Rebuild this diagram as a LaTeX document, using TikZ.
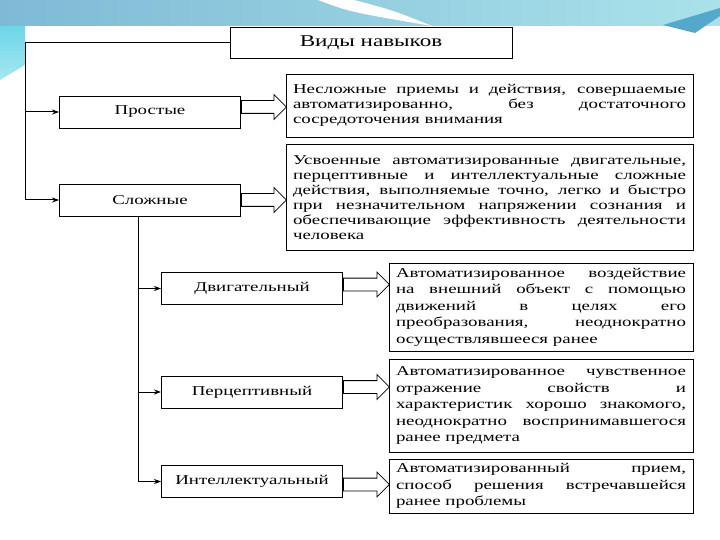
\documentclass[tikz,border=0pt]{standalone}
\usepackage{fontspec}
\setmainfont{Liberation Serif}[FakeStretch=1.4]
\usetikzlibrary{shapes.arrows,arrows.meta}
\hyphenpenalty=10000
\tolerance=10000
\definecolor{bandblue}{RGB}{126,186,214}
\definecolor{bandcyan}{RGB}{170,226,234}
\definecolor{edgecyan}{RGB}{108,214,232}
\definecolor{swooshblue}{RGB}{84,168,204}

\begin{document}
\begin{tikzpicture}[
	x=1pt, y=-1pt,
	kind/.style={ draw, line width=0.9pt, minimum width=181pt, minimum height=32pt, inner sep=0pt, font=\fontsize{13.5}{15}\selectfont },
	descr/.style={ draw, line width=0.9pt, align=justify, inner xsep=7pt, inner ysep=0pt, font=\fontsize{13.5}{15}\selectfont },
	conn/.style={ line width=1pt, -{Stealth[length=7pt,width=5pt]} },
	hollow/.style={ single arrow, draw, line width=0.8pt, fill=white, inner sep=6pt, minimum width=0pt, single arrow head extend=6pt, minimum height=45pt, anchor=tail }
]

% slide background
\useasboundingbox (0,0) rectangle (720,540);
\fill[white] (0,0) rectangle (720,540);
\shade[left color=bandblue, right color=bandcyan] (0,0) rectangle (720,26);
\fill[white] (318,0) .. controls (350,12) .. (432,26) .. controls (392,10) .. (354,0) -- cycle;
\fill[swooshblue] (663,25) -- (720,8) -- (720,16) -- (695,33) -- cycle;
\shade[top color=edgecyan, bottom color=edgecyan!60!white] (0,26) -- (25,26) -- (25,65) -- (0,80) -- cycle;

\node at (371,42.5) (title) [draw, line width=0.9pt, minimum width=282pt, minimum height=31pt, font=\fontsize{16.5}{18}\selectfont] {Виды навыков};

\node at (150,112) (prostye) [kind] {Простые};
\node at (150,200) (slozhnye) [kind] {Сложные};
\node at (252,288.5) (dvig) [kind] {Двигательный};
\node at (252,392) (perc) [kind] {Перцептивный};
\node at (252,481.5) (intel) [kind] {Интеллектуальный};

\node at (489.5,105.5) (d1) [descr, text width=393pt, minimum height=63pt] {Несложные приемы и действия, совершаемые\linebreak автоматизированно, без достаточного\linebreak сосредоточения внимания};
\node at (489.5,197.5) (d2) [descr, text width=393pt, minimum height=106pt] {Усвоенные автоматизированные двигательные,\linebreak перцептивные и интеллектуальные сложные\linebreak действия, выполняемые точно, легко и быстро\linebreak при незначительном напряжении сознания и\linebreak обеспечивающие эффективность деятельности\linebreak человека};
\node at (541,307) (d3) [descr, text width=290pt, minimum height=88pt, font=\fontsize{13.5}{16.5}\selectfont] {Автоматизированное воздействие\linebreak на внешний объект с помощью\linebreak движений в целях его\linebreak преобразования, неоднократно\linebreak осуществлявшееся ранее};
\node at (541,405.5) (d4) [descr, text width=290pt, minimum height=93pt, font=\fontsize{13.5}{16.5}\selectfont] {Автоматизированное чувственное\linebreak отражение свойств и\linebreak характеристик хорошо знакомого,\linebreak неоднократно воспринимавшегося\linebreak ранее предмета};
\node at (541,486) (d5) [descr, text width=290pt, minimum height=54pt, font=\fontsize{13.5}{16.5}\selectfont] {Автоматизированный прием,\linebreak способ решения встречавшейся\linebreak ранее проблемы};

% wide arrows to the descriptions
\node at ([yshift=5pt]prostye.east) [hollow] {};
\node at (slozhnye.east) [hollow] {};
\node at ([yshift=4pt]dvig.east) [hollow, minimum height=46pt] {};
\node at ([yshift=5pt]perc.east) [hollow, minimum height=46pt] {};
\node at ([yshift=-3pt]intel.east) [hollow, minimum height=46pt] {};

% thin connectors
\coordinate (top) at (25,42.5);
\coordinate (bottom) at (25,200);
\coordinate (low) at (138,481.5);
\draw[conn] (title.west) -- (top) -- (bottom) -- (slozhnye);
\draw[conn] (top |- prostye) -- (prostye);
\draw[conn] (slozhnye.south -| low) -- (low) -- (intel);
\draw[conn] (low |- dvig) -- (dvig);
\draw[conn] (low |- perc) -- (perc);

\end{tikzpicture}
\end{document}
